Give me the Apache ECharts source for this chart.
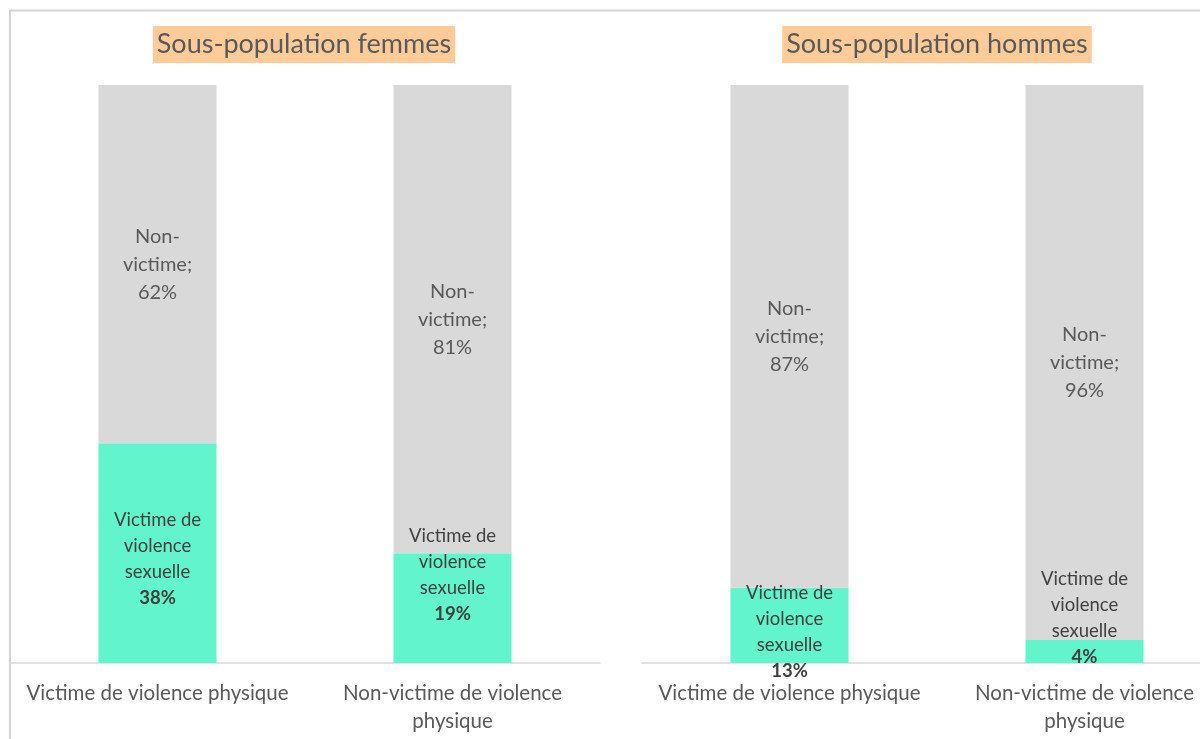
<!DOCTYPE html>
<html>
<head>
<meta charset="utf-8">
<script src="https://cdn.jsdelivr.net/npm/echarts@6/dist/echarts.min.js"></script>
<style>
html,body{margin:0;padding:0;background:#fff;}
#c{width:1200px;height:739px;}
</style>
</head>
<body>
<div id="c"></div>
<script>
// ---- data ----
const categories = ['Victime de violence physique', 'Non-victime de violence physique'];
const panelTitles = ['Sous-population femmes', 'Sous-population hommes'];
const victimeFemmes = [38, 19];
const nonVictimeFemmes = [62, 81];
const victimeHommes = [13, 4];
const nonVictimeHommes = [87, 96];
const victimeName = 'Victime de violence sexuelle';
const nonVictimeName = 'Non-victime';

// ---- layout (label shifts in px, not data) ----
const greenShiftFemmes = [6, -33];
const greenShiftHommes = [7, -33];

const FONT = 'Lato';
const GREEN = '#62F5CB';
const GREY = '#D9D9D9';

const chart = echarts.init(document.getElementById('c'));

function greenData(vals, shifts) {
  return vals.map((v, i) => ({ value: v, label: { offset: [0, shifts[i]] } }));
}

function series(idx, vic, non, shifts) {
  return [
    {
      name: victimeName, type: 'bar', stack: 's' + idx,
      xAxisIndex: idx, yAxisIndex: idx, barWidth: 118,
      itemStyle: { color: GREEN },
      data: greenData(vic, shifts),
      label: {
        show: true, position: 'inside',
        formatter: p => '{t|Victime de}\n{t|violence}\n{t|sexuelle}\n{b|' + p.value + '%}',
        rich: {
          t: { fontFamily: FONT, fontSize: 18.5, color: '#404040', lineHeight: 26 },
          b: { fontFamily: FONT, fontSize: 18.5, color: '#404040', fontWeight: 'bold', lineHeight: 26 }
        }
      }
    },
    {
      name: nonVictimeName, type: 'bar', stack: 's' + idx,
      xAxisIndex: idx, yAxisIndex: idx, barWidth: 118,
      itemStyle: { color: GREY },
      data: non,
      label: {
        show: true, position: 'inside',
        formatter: p => 'Non-\nvictime;\n' + p.value + '%',
        fontFamily: FONT, fontSize: 20, color: '#595959', lineHeight: 28
      }
    }
  ];
}

const xAxisBase = {
  type: 'category', data: categories,
  axisLine: { lineStyle: { color: '#D9D9D9', width: 1.5 } },
  axisTick: { show: false },
  axisLabel: {
    interval: 0, margin: 16, fontFamily: FONT, fontSize: 20.5, color: '#595959', lineHeight: 28,
    formatter: v => v.startsWith('Non') ? v.replace(' physique', '\nphysique') : v
  }
};
const yAxisBase = { type: 'value', min: 0, max: 100, show: false, splitLine: { show: false } };

const titleStyle = { fontFamily: FONT, fontSize: 27, fontWeight: 'normal', color: '#595959', lineHeight: 29 };

chart.setOption({
  animation: false,
  backgroundColor: '#fff',
  title: [
    { text: panelTitles[0], left: 300, top: 26, textAlign: 'center', backgroundColor: '#FFCC99', padding: [4, 4, 4, 4],
      textStyle: titleStyle },
    { text: panelTitles[1], left: 933, top: 26, textAlign: 'center', backgroundColor: '#FFCC99', padding: [4, 4, 4, 4],
      textStyle: titleStyle }
  ],
  grid: [
    { left: 10, top: 85, width: 590, height: 578, outerBoundsMode: 'none' },
    { left: 642, top: 85, width: 590, height: 578, outerBoundsMode: 'none' }
  ],
  xAxis: [Object.assign({ gridIndex: 0 }, xAxisBase), Object.assign({ gridIndex: 1 }, xAxisBase)],
  yAxis: [Object.assign({ gridIndex: 0 }, yAxisBase), Object.assign({ gridIndex: 1 }, yAxisBase)],
  graphic: [
    { type: 'polyline', shape: { points: [[10, 739], [10, 10.5], [1200, 10.5]] },
      style: { stroke: '#D4D4D4', lineWidth: 2, fill: null }, silent: true }
  ],
  series: [].concat(
    series(0, victimeFemmes, nonVictimeFemmes, greenShiftFemmes),
    series(1, victimeHommes, nonVictimeHommes, greenShiftHommes)
  )
});
</script>
</body>
</html>
